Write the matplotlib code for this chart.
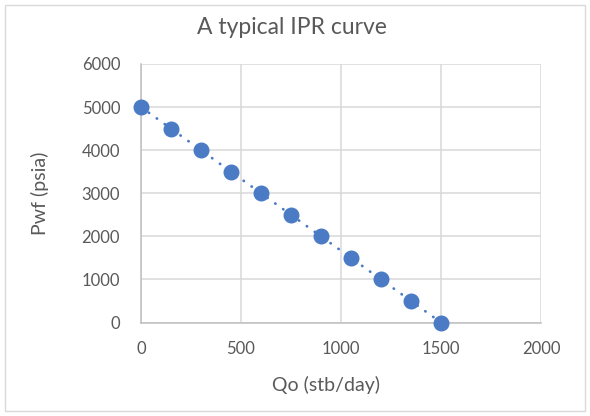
import matplotlib.pyplot as plt
from matplotlib.patches import Rectangle

# IPR data
qo = [0, 150, 300, 450, 600, 750, 900, 1050, 1200, 1350, 1500]
pwf = [5000, 4500, 4000, 3500, 3000, 2500, 2000, 1500, 1000, 500, 0]
x_ticks = [0, 500, 1000, 1500, 2000]
y_ticks = [0, 1000, 2000, 3000, 4000, 5000, 6000]

plt.rcParams['font.family'] = ['Lato', 'DejaVu Sans']
txt = '#595959'
grid = '#d9d9d9'
blue = '#4a7bc4'

fig = plt.figure(figsize=(5.9, 4.16), dpi=100)
ax = fig.add_axes([141/590, 1 - 322.5/416, 400/590, 258.5/416])

# dotted connecting line + markers
ax.plot(qo, pwf, color=blue, lw=2.0, linestyle=(0, (0.1, 3.4)),
        dash_capstyle='round', zorder=3)
ax.plot(qo, pwf, 'o', color=blue, markersize=10.5, zorder=4, clip_on=False)

ax.set_xlim(0, 2000)
ax.set_ylim(0, 6000)
ax.set_xticks(x_ticks)
ax.set_yticks(y_ticks)
ax.grid(True, color=grid, lw=1.1)
ax.set_axisbelow(True)
for s in ['top', 'right']:
    ax.spines[s].set_visible(False)
for s in ['left', 'bottom']:
    ax.spines[s].set_color('#bfbfbf')
    ax.spines[s].set_linewidth(1.1)
ax.tick_params(length=0, labelsize=12, labelcolor=txt)
ax.tick_params(axis='y', pad=15)
ax.tick_params(axis='x', pad=13)

fig.text(292/590, 1 - 27/416, 'A typical IPR curve', ha='center', va='center',
         fontsize=16.5, color=txt)
fig.text(40/590, 1 - 193/416, 'Pwf (psia)', ha='center', va='center',
         rotation=90, fontsize=14, color=txt)
fig.text(326/590, 1 - 385/416, 'Qo (stb/day)', ha='center', va='center',
         fontsize=14, color=txt)

# chart border
fig.patches.append(Rectangle((5/590, 5/416), 580/590, 406/416, transform=fig.transFigure,
                             fill=False, edgecolor=grid, lw=1))

fig.savefig('out.png', dpi=100)
